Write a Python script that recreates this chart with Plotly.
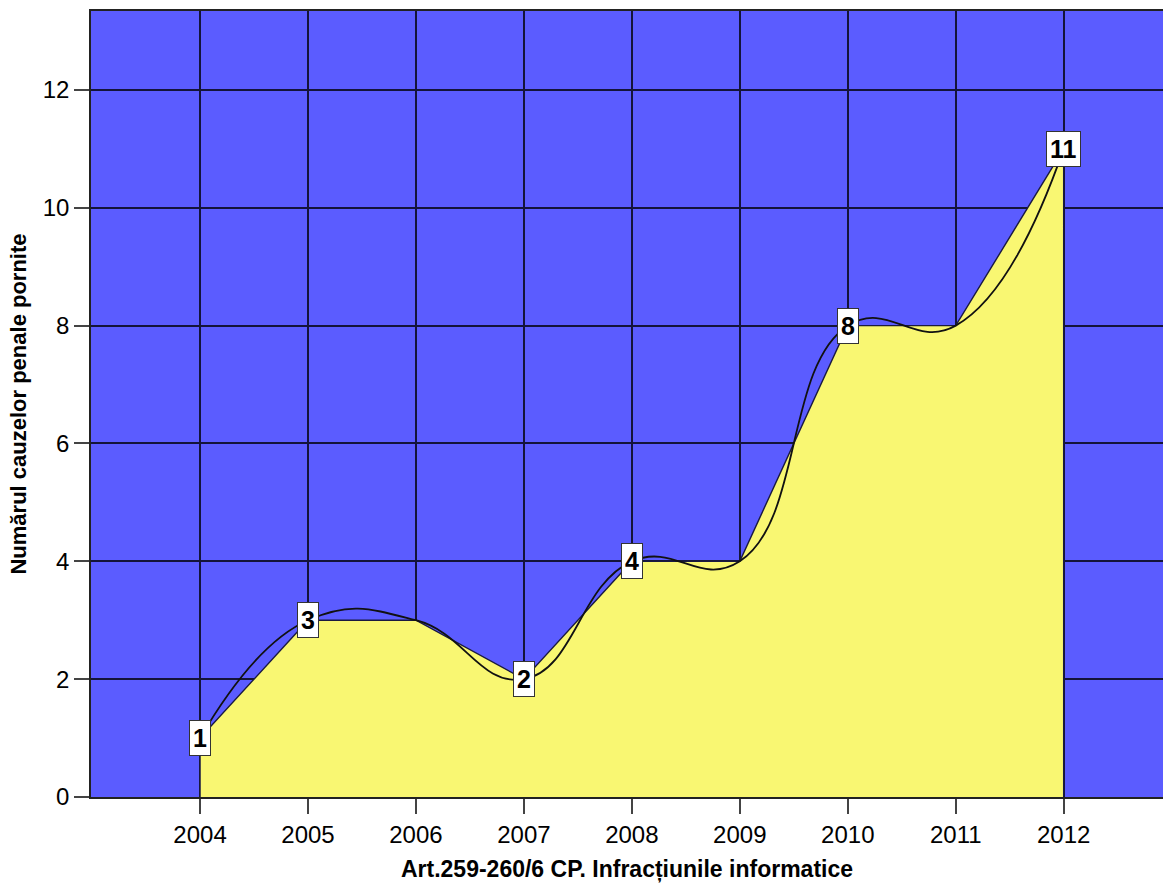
import plotly.graph_objects as go

years = [2004, 2005, 2006, 2007, 2008, 2009, 2010, 2011, 2012]
cases = [1, 3, 3, 2, 4, 4, 8, 8, 11]
label_years = [2004, 2005, 2007, 2008, 2010, 2012]
label_values = [1, 3, 2, 4, 8, 11]
y_ticks = [0, 2, 4, 6, 8, 10, 12]

BLUE = "#5b5cff"
YELLOW = "#f9f772"
GRID = "#14143a"

# closed polygon for the area so its vertical edges are outlined
area_x = [years[0]] + years + [years[-1]]
area_y = [0] + cases + [0]

fig = go.Figure()
fig.add_trace(go.Scatter(
    x=area_x, y=area_y, mode="lines", fill="toself",
    fillcolor=YELLOW, line=dict(color="#1a1a40", width=1.4, shape="linear"),
    hoverinfo="skip", showlegend=False))
fig.add_trace(go.Scatter(
    x=years, y=cases, mode="lines",
    line=dict(color="#111111", width=1.8, shape="spline", smoothing=1.3),
    hoverinfo="skip", showlegend=False))

for xv, yv in zip(label_years, label_values):
    fig.add_annotation(
        x=xv, y=yv, text="<b>%d</b>" % yv, showarrow=False,
        font=dict(family="Liberation Sans, Arial", size=25, color="black"),
        bgcolor="white", bordercolor="#333333", borderwidth=1, borderpad=3,
        xanchor="center", yanchor="middle")

fig.update_layout(
    width=1163, height=885,
    margin=dict(l=91, r=0, t=11, b=88),
    paper_bgcolor="white", plot_bgcolor=BLUE,
    font=dict(family="Liberation Sans, Arial", color="black"),
    xaxis=dict(
        range=[2002.99, 2012.92], tickmode="array", tickvals=years,
        ticktext=[str(y) for y in years],
        showgrid=True, gridcolor=GRID, gridwidth=1.5,
        zeroline=False, showline=True, linecolor="#222222", linewidth=1.5,
        mirror=True, ticks="outside", ticklen=15, tickcolor="#444444",
        tickwidth=1.5, tickfont=dict(size=24),
        title=dict(text="<b>Art.259-260/6 CP. Infracțiunile informatice</b>",
                   font=dict(size=23), standoff=14)),
    yaxis=dict(
        range=[0, 13.34], tickmode="array", tickvals=y_ticks,
        showgrid=True, gridcolor=GRID, gridwidth=1.5,
        zeroline=False, showline=True, linecolor="#222222", linewidth=1.5,
        ticks="outside", ticklen=15, tickcolor="#444444", tickwidth=1.5,
        tickfont=dict(size=24),
        title=dict(text="<b>Numărul cauzelor penale pornite</b>",
                   font=dict(size=22), standoff=10)),
)

fig.write_html(
    "out.html",
    config={"displayModeBar": False},
    post_script="document.body.style.margin='0';document.body.style.overflow='hidden';")
